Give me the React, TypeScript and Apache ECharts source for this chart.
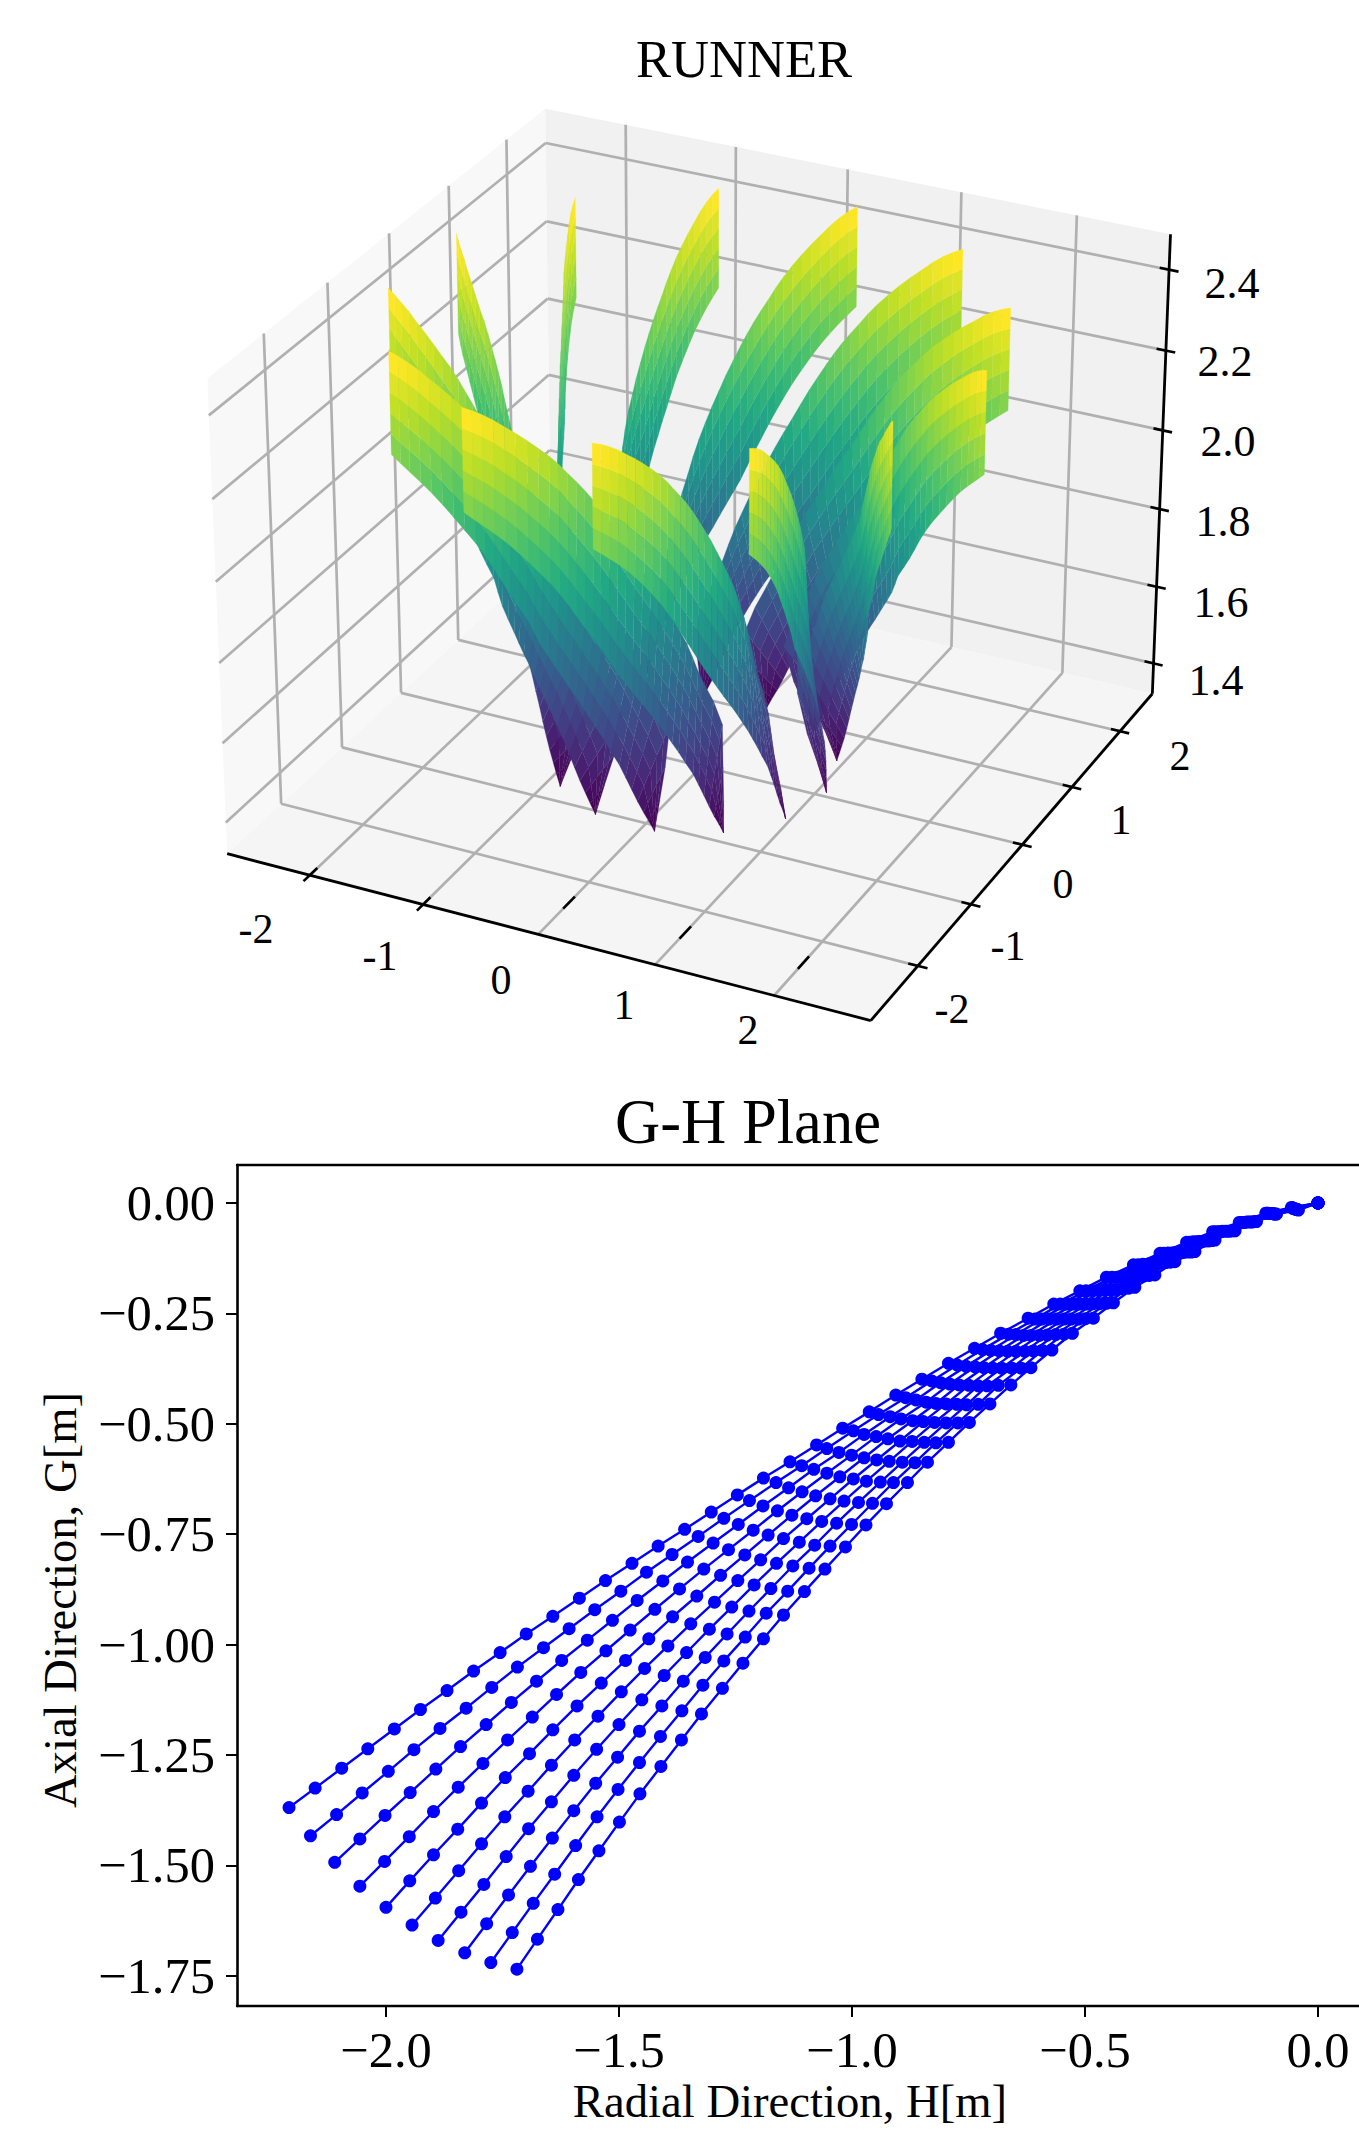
import React, { useEffect, useRef } from "react";
import * as echarts from "echarts";

// ---------- G-H plane: ten streamlines, outer end first, hub end last ----------
const H1 = [-2.208,-2.152,-2.095,-2.039,-1.982,-1.926,-1.869,-1.812,-1.755,-1.699,-1.642,-1.585,-1.529,-1.472,-1.416,-1.359,-1.302,-1.246,-1.190,-1.133,-1.076,-1.020,-0.963,-0.906,-0.850,-0.793,-0.737,-0.681,-0.622,-0.567,-0.511,-0.454,-0.396,-0.339,-0.282,-0.226,-0.169,-0.112,-0.057,0];
const G1 = [-1.369,-1.325,-1.280,-1.236,-1.191,-1.147,-1.104,-1.060,-1.018,-0.976,-0.936,-0.895,-0.855,-0.816,-0.777,-0.739,-0.700,-0.661,-0.623,-0.586,-0.548,-0.510,-0.473,-0.435,-0.399,-0.363,-0.329,-0.295,-0.261,-0.229,-0.199,-0.168,-0.140,-0.114,-0.089,-0.065,-0.044,-0.023,-0.010,0];
const H2 = [-2.162,-2.106,-2.051,-1.995,-1.940,-1.884,-1.828,-1.773,-1.718,-1.662,-1.607,-1.552,-1.496,-1.441,-1.386,-1.330,-1.275,-1.220,-1.163,-1.108,-1.054,-0.997,-0.943,-0.885,-0.829,-0.774,-0.720,-0.664,-0.607,-0.553,-0.498,-0.442,-0.386,-0.331,-0.275,-0.221,-0.165,-0.109,-0.055,0];
const G2 = [-1.433,-1.385,-1.336,-1.287,-1.238,-1.190,-1.144,-1.097,-1.051,-1.007,-0.964,-0.921,-0.879,-0.836,-0.796,-0.755,-0.714,-0.674,-0.633,-0.595,-0.556,-0.516,-0.479,-0.441,-0.403,-0.367,-0.332,-0.297,-0.263,-0.229,-0.199,-0.168,-0.140,-0.114,-0.089,-0.065,-0.044,-0.023,-0.011,0];
const H3 = [-2.110,-2.056,-2.002,-1.948,-1.893,-1.840,-1.785,-1.731,-1.677,-1.623,-1.568,-1.514,-1.461,-1.406,-1.353,-1.298,-1.244,-1.191,-1.136,-1.082,-1.028,-0.974,-0.918,-0.863,-0.810,-0.755,-0.702,-0.648,-0.593,-0.539,-0.485,-0.431,-0.376,-0.322,-0.268,-0.215,-0.161,-0.107,-0.054,0];
const G3 = [-1.493,-1.440,-1.387,-1.335,-1.282,-1.231,-1.181,-1.131,-1.083,-1.036,-0.990,-0.945,-0.900,-0.856,-0.813,-0.770,-0.728,-0.686,-0.645,-0.603,-0.565,-0.524,-0.484,-0.446,-0.407,-0.370,-0.334,-0.298,-0.263,-0.229,-0.198,-0.168,-0.139,-0.113,-0.088,-0.065,-0.044,-0.023,-0.012,0];
const H4 = [-2.056,-2.003,-1.950,-1.898,-1.845,-1.792,-1.739,-1.686,-1.634,-1.582,-1.528,-1.476,-1.423,-1.370,-1.318,-1.265,-1.212,-1.160,-1.107,-1.054,-1.001,-0.948,-0.895,-0.841,-0.790,-0.736,-0.684,-0.632,-0.577,-0.524,-0.472,-0.419,-0.366,-0.314,-0.261,-0.210,-0.157,-0.104,-0.052,0];
const G4 = [-1.547,-1.491,-1.435,-1.378,-1.323,-1.269,-1.216,-1.164,-1.113,-1.063,-1.014,-0.967,-0.920,-0.874,-0.829,-0.785,-0.741,-0.697,-0.654,-0.612,-0.571,-0.529,-0.489,-0.451,-0.410,-0.371,-0.335,-0.300,-0.263,-0.229,-0.198,-0.167,-0.139,-0.113,-0.088,-0.065,-0.044,-0.024,-0.012,0];
const H5 = [-2.000,-1.949,-1.898,-1.846,-1.795,-1.744,-1.692,-1.642,-1.590,-1.538,-1.486,-1.436,-1.385,-1.333,-1.282,-1.230,-1.180,-1.129,-1.078,-1.026,-0.974,-0.923,-0.870,-0.820,-0.770,-0.717,-0.666,-0.616,-0.561,-0.510,-0.459,-0.408,-0.356,-0.306,-0.255,-0.205,-0.153,-0.102,-0.050,0];
const G5 = [-1.595,-1.535,-1.476,-1.418,-1.359,-1.301,-1.247,-1.193,-1.139,-1.087,-1.036,-0.987,-0.937,-0.890,-0.843,-0.797,-0.752,-0.707,-0.663,-0.620,-0.577,-0.534,-0.493,-0.454,-0.412,-0.373,-0.336,-0.300,-0.263,-0.229,-0.197,-0.167,-0.138,-0.112,-0.087,-0.064,-0.043,-0.024,-0.013,0];
const H6 = [-1.944,-1.894,-1.844,-1.795,-1.745,-1.695,-1.645,-1.595,-1.545,-1.495,-1.445,-1.395,-1.346,-1.295,-1.245,-1.196,-1.147,-1.097,-1.047,-0.997,-0.947,-0.897,-0.847,-0.798,-0.749,-0.698,-0.648,-0.598,-0.545,-0.496,-0.445,-0.396,-0.346,-0.297,-0.248,-0.199,-0.148,-0.099,-0.049,0];
const G6 = [-1.635,-1.574,-1.512,-1.451,-1.390,-1.332,-1.273,-1.216,-1.162,-1.107,-1.054,-1.003,-0.953,-0.904,-0.855,-0.808,-0.760,-0.715,-0.670,-0.625,-0.582,-0.539,-0.495,-0.455,-0.413,-0.374,-0.336,-0.300,-0.263,-0.229,-0.197,-0.166,-0.137,-0.112,-0.087,-0.064,-0.043,-0.024,-0.014,0];
const H7 = [-1.888,-1.839,-1.790,-1.742,-1.694,-1.645,-1.597,-1.548,-1.500,-1.451,-1.403,-1.355,-1.306,-1.258,-1.210,-1.162,-1.113,-1.065,-1.017,-0.969,-0.920,-0.871,-0.823,-0.775,-0.729,-0.679,-0.629,-0.581,-0.530,-0.482,-0.432,-0.385,-0.337,-0.289,-0.241,-0.194,-0.144,-0.097,-0.047,0];
const G7 = [-1.670,-1.606,-1.543,-1.480,-1.417,-1.356,-1.296,-1.237,-1.181,-1.125,-1.070,-1.018,-0.965,-0.915,-0.865,-0.816,-0.768,-0.721,-0.675,-0.630,-0.585,-0.540,-0.497,-0.456,-0.414,-0.374,-0.336,-0.299,-0.263,-0.228,-0.196,-0.166,-0.136,-0.112,-0.086,-0.064,-0.043,-0.024,-0.014,0];
const H8 = [-1.831,-1.784,-1.737,-1.690,-1.643,-1.597,-1.550,-1.503,-1.456,-1.408,-1.362,-1.315,-1.268,-1.221,-1.174,-1.127,-1.080,-1.033,-0.986,-0.939,-0.892,-0.845,-0.798,-0.754,-0.710,-0.657,-0.611,-0.563,-0.514,-0.468,-0.419,-0.373,-0.327,-0.281,-0.234,-0.189,-0.140,-0.094,-0.045,0];
const G8 = [-1.698,-1.632,-1.567,-1.502,-1.438,-1.376,-1.314,-1.255,-1.196,-1.139,-1.083,-1.029,-0.976,-0.924,-0.873,-0.822,-0.775,-0.725,-0.678,-0.632,-0.587,-0.542,-0.498,-0.457,-0.414,-0.374,-0.335,-0.298,-0.263,-0.228,-0.194,-0.165,-0.135,-0.111,-0.086,-0.064,-0.043,-0.025,-0.015,0];
const H9 = [-1.775,-1.729,-1.684,-1.638,-1.593,-1.547,-1.502,-1.456,-1.411,-1.365,-1.320,-1.275,-1.229,-1.184,-1.138,-1.092,-1.047,-1.001,-0.956,-0.911,-0.865,-0.820,-0.773,-0.729,-0.686,-0.637,-0.592,-0.545,-0.499,-0.453,-0.406,-0.362,-0.317,-0.272,-0.228,-0.183,-0.136,-0.092,-0.044,0];
const G9 = [-1.720,-1.652,-1.586,-1.520,-1.455,-1.390,-1.328,-1.267,-1.208,-1.150,-1.092,-1.037,-0.983,-0.929,-0.879,-0.827,-0.777,-0.728,-0.680,-0.633,-0.588,-0.543,-0.498,-0.456,-0.413,-0.374,-0.334,-0.297,-0.262,-0.227,-0.193,-0.164,-0.134,-0.111,-0.085,-0.063,-0.042,-0.025,-0.015,0];
const H10 = [-1.719,-1.675,-1.631,-1.587,-1.543,-1.499,-1.455,-1.410,-1.366,-1.323,-1.278,-1.234,-1.190,-1.147,-1.102,-1.058,-1.014,-0.970,-0.926,-0.881,-0.838,-0.793,-0.748,-0.704,-0.659,-0.616,-0.571,-0.527,-0.482,-0.439,-0.393,-0.350,-0.307,-0.264,-0.221,-0.178,-0.132,-0.089,-0.042,0];
const G10 = [-1.735,-1.667,-1.600,-1.532,-1.467,-1.402,-1.338,-1.276,-1.216,-1.157,-1.099,-1.042,-0.987,-0.933,-0.880,-0.829,-0.779,-0.729,-0.681,-0.633,-0.587,-0.542,-0.497,-0.455,-0.412,-0.373,-0.333,-0.295,-0.261,-0.226,-0.191,-0.163,-0.133,-0.110,-0.084,-0.063,-0.042,-0.025,-0.016,0];
const radial = [H1, H2, H3, H4, H5, H6, H7, H8, H9, H10];
const axial = [G1, G2, G3, G4, G5, G6, G7, G8, G9, G10];
const gTicks = [0, -0.25, -0.5, -0.75, -1, -1.25, -1.5, -1.75];
const hTicks = [-2, -1.5, -1, -0.5, 0];

// ---------- RUNNER: the two edges of one blade, read from outer edge to tip ----------
const bladeAngles = [-82.3, -54.6, -26.9, 0.8, 28.5, 56.2, 83.9, 111.6, 139.3, 167, 194.7, 222.4, 250.1];
const topWrap = [0,1.1,2.2,3.4,4.7,6,7.4,8.9,10.3,11.7,13.1,14.5,16,17.5,19,20.9,22.8,24.7,26.7,28.8,30.9,33,35,37.5,40,42,44.5,47,49.5,55,60,59,58,57];
const topRadius = [2.44,2.38,2.32,2.25,2.18,2.11,2.04,1.97,1.90,1.84,1.785,1.735,1.685,1.64,1.60,1.55,1.505,1.46,1.42,1.365,1.31,1.255,1.2,1.14,1.085,1.04,1.00,0.965,0.93,0.89,0.86,0.95,1.05,1.137];
const zTop = [2.454,2.445,2.434,2.419,2.40,2.382,2.362,2.34,2.318,2.295,2.27,2.248,2.224,2.199,2.173,2.14,2.108,2.074,2.04,2.005,1.97,1.934,1.898,1.86,1.82,1.79,1.75,1.71,1.677,1.62,1.556,1.46,1.39,1.322];
const bottomWrap = [0,1.1,2.2,3.4,4.7,6,7.4,8.9,10.3,11.7,13.1,14.5,16,17.5,19,20.9,22.8,24.7,26.7,28.4,30.2,32,34,36,38,40,42.3,45,47,49,51,53,55,57];
const bottomRadius = [2.44,2.38,2.32,2.25,2.18,2.11,2.04,1.97,1.90,1.84,1.79,1.745,1.70,1.65,1.60,1.575,1.55,1.515,1.48,1.455,1.43,1.40,1.375,1.35,1.325,1.30,1.275,1.25,1.23,1.21,1.19,1.17,1.155,1.137];
const zBottom = [2.204,2.186,2.168,2.147,2.124,2.098,2.07,2.04,2.01,1.98,1.951,1.921,1.891,1.861,1.832,1.803,1.775,1.748,1.721,1.70,1.678,1.655,1.63,1.606,1.58,1.555,1.525,1.493,1.462,1.431,1.40,1.372,1.348,1.322];
const xyTicks = [-2, -1, 0, 1, 2];
const zTicks = [1.4, 1.6, 1.8, 2.0, 2.2, 2.4];
const viridis = ["#440154","#482475","#414487","#355f8d","#2a788e","#21918c","#22a884","#44bf70","#7ad151","#bddf26","#fde725"];

// ---------- layout of the 3D view ----------
const XLIM = [-2.74, 2.80], YLIM = [-2.86, 2.69], ZLIM = [1.32, 2.487];
const RING_CENTER = [-0.042, -0.021];
const PLAN_FLATTEN = 0.95;
const ELEV = (28 * Math.PI) / 180, AZIM = (-64 * Math.PI) / 180;
const OX = 700.3, OY = 543, K = 6172;
const BX = 1.143, BZ = 0.857, DIST = 10;
const n = [Math.cos(ELEV) * Math.cos(AZIM), Math.cos(ELEV) * Math.sin(AZIM), Math.sin(ELEV)];
const u = [-Math.sin(AZIM), Math.cos(AZIM), 0];
const v = [n[1] * u[2] - n[2] * u[1], n[2] * u[0] - n[0] * u[2], n[0] * u[1] - n[1] * u[0]];
const far = [-Math.cos(AZIM), -Math.sin(AZIM)];
const dot = (a: number[], b: number[]) => a[0] * b[0] + a[1] * b[1] + a[2] * b[2];
function box(x: number, y: number, z: number) {
  return [
    ((x - XLIM[0]) / (XLIM[1] - XLIM[0]) - 0.5) * BX,
    ((y - YLIM[0]) / (YLIM[1] - YLIM[0]) - 0.5) * BX,
    ((z - ZLIM[0]) / (ZLIM[1] - ZLIM[0]) - 0.5) * BZ,
  ];
}
function depth(x: number, y: number, z: number) {
  return DIST - dot(n, box(x, y, z));
}
function proj(x: number, y: number, z: number): number[] {
  const p = box(x, y, z);
  const d = DIST - dot(n, p);
  return [OX + (K * dot(u, p)) / d, OY - (K * dot(v, p)) / d];
}
function cmap(t: number) {
  const c = Math.max(0, Math.min(0.9999, t)) * (viridis.length - 1);
  const i = Math.floor(c), f = c - i;
  const hex = (s: string, o: number) => parseInt(s.substr(o, 2), 16);
  const mix = (o: number) => Math.round(hex(viridis[i], o) * (1 - f) + hex(viridis[i + 1], o) * f);
  return `rgb(${mix(1)},${mix(3)},${mix(5)})`;
}

type Item = { pts: number[][]; fill?: string; stroke?: string; width?: number };
const BANDS = 5;
function buildFaces(): Item[] {
  const out: (Item & { d: number; zAvg: number })[] = [];
  for (const a of bladeAngles) {
    const edge = (wrap: number[], rad: number[], s: number) => {
      const th = ((a + wrap[s]) * Math.PI) / 180;
      let x = rad[s] * Math.cos(th), y = rad[s] * Math.sin(th);
      const along = x * far[0] + y * far[1];
      x -= (1 - PLAN_FLATTEN) * along * far[0];
      y -= (1 - PLAN_FLATTEN) * along * far[1];
      return [x + RING_CENTER[0], y + RING_CENTER[1]];
    };
    const pos = (s: number, b: number) => {
      const f = b / BANDS;
      const t = edge(topWrap, topRadius, s), m = edge(bottomWrap, bottomRadius, s);
      return [m[0] + f * (t[0] - m[0]), m[1] + f * (t[1] - m[1]), zBottom[s] + f * (zTop[s] - zBottom[s])];
    };
    for (let s = 0; s < topWrap.length - 1; s++) {
      for (let b = 0; b < BANDS; b++) {
        const c = [pos(s, b), pos(s + 1, b), pos(s + 1, b + 1), pos(s, b + 1)];
        const zAvg = (c[0][2] + c[1][2] + c[2][2] + c[3][2]) / 4;
        const d = c.reduce((acc, q) => acc + depth(q[0], q[1], q[2]), 0) / 4;
        out.push({ pts: c.map((q) => proj(q[0], q[1], q[2])), d, zAvg });
      }
    }
  }
  const lo = Math.min(...out.map((f) => f.zAvg)), hi = Math.max(...out.map((f) => f.zAvg));
  out.forEach((f) => {
    f.fill = cmap((f.zAvg - lo) / (hi - lo));
    f.stroke = f.fill;
    f.width = 0.25;
  });
  out.sort((p, q) => q.d - p.d);
  return out;
}
function buildFrame(): Item[] {
  const [x0, x1] = XLIM, [y0, y1] = YLIM, [z0, z1] = ZLIM;
  const items: Item[] = [
    { pts: [proj(x0, y0, z0), proj(x0, y1, z0), proj(x0, y1, z1), proj(x0, y0, z1)], fill: "#f8f8f8" },
    { pts: [proj(x0, y1, z0), proj(x1, y1, z0), proj(x1, y1, z1), proj(x0, y1, z1)], fill: "#f1f1f1" },
    { pts: [proj(x0, y0, z0), proj(x1, y0, z0), proj(x1, y1, z0), proj(x0, y1, z0)], fill: "#f5f5f5" },
  ];
  const G = "#b0b0b0", W = 2.7;
  const line = (a: number[], b: number[], stroke = G, width = W) => items.push({ pts: [a, b], stroke, width });
  for (const t of xyTicks) {
    line(proj(t, y0, z0), proj(t, y1, z0));
    line(proj(t, y1, z0), proj(t, y1, z1));
    line(proj(x0, t, z0), proj(x1, t, z0));
    line(proj(x0, t, z0), proj(x0, t, z1));
  }
  for (const t of zTicks) {
    line(proj(x0, y0, t), proj(x0, y1, t));
    line(proj(x0, y1, t), proj(x1, y1, t));
  }
  const B = "#000000";
  line(proj(x0, y0, z0), proj(x1, y0, z0), B, 2.8);
  line(proj(x1, y0, z0), proj(x1, y1, z0), B, 2.8);
  line(proj(x1, y1, z0), proj(x1, y1, z1), B, 2.8);
  for (const t of xyTicks) {
    if (t < 0) line(proj(t, y0 - 0.1, z0), proj(t, y0 + 0.12, z0), B, 2.6);
    else line(proj(t, y0 + 0.42, z0), proj(t, y0 + 0.62, z0), B, 2.6);
    line(proj(x1 - 0.08, t, z0), proj(x1 + 0.08, t, z0), B, 2.6);
  }
  for (const t of zTicks) line(proj(x1 - 0.08, y1, t), proj(x1 + 0.08, y1, t), B, 2.6);
  return items;
}
const faces = buildFaces();
const frame = buildFrame();

const SERIF = '"Liberation Serif", serif';
const xTickPos = [[256, 929], [380, 956], [501, 980], [624, 1005], [748, 1030]];
const yTickPos = [[952, 1009], [1008, 946], [1063, 884], [1121, 820], [1180, 756]];
const zTickPos = [[1216, 680], [1221, 602], [1223, 521], [1228, 441], [1225, 361], [1232, 283]];

function label(text: string, x: number, y: number, size: number, rotation = 0) {
  return {
    type: "text", x, y, rotation, silent: true,
    style: { text, fill: "#000", font: `${size}px ${SERIF}`, textAlign: "center", textVerticalAlign: "middle" },
  };
}
function customFrom(items: Item[], z: number) {
  return {
    type: "custom", coordinateSystem: "cartesian2d", xAxisIndex: 0, yAxisIndex: 0, silent: true, clip: false, z,
    data: items.map(() => [0, 0]),
    renderItem: (params: any, api: any) => {
      const it = items[params.dataIndex];
      const pts = it.pts.map((p) => api.coord(p));
      if (!it.fill) {
        return { type: "line", shape: { x1: pts[0][0], y1: pts[0][1], x2: pts[1][0], y2: pts[1][1] }, style: { stroke: it.stroke, lineWidth: it.width } };
      }
      return { type: "polygon", shape: { points: pts }, style: { fill: it.fill, stroke: it.stroke || "none", lineWidth: it.width || 0 } };
    },
  };
}

export default function App() {
  const ref = useRef<HTMLDivElement>(null);
  useEffect(() => {
    const chart = echarts.init(ref.current!, undefined, { renderer: "svg" });
    const hidden = { show: false, type: "value" as const, axisLine: { show: false }, splitLine: { show: false } };
    chart.setOption({
      animation: false,
      backgroundColor: "#ffffff",
      grid: [
        { left: 0, top: 0, width: 1359, height: 2134, show: false },
        { left: 237, top: 1165, width: 1122, height: 841, show: false },
      ],
      xAxis: [
        { ...hidden, gridIndex: 0, min: 0, max: 1359 },
        {
          type: "value", gridIndex: 1, min: -2.3197, max: 0.0880, splitLine: { show: false },
          axisLine: { show: true, onZero: false, lineStyle: { color: "#000", width: 2.4 } },
          axisTick: { show: true, length: 11, customValues: hTicks, lineStyle: { color: "#000", width: 2 } },
          axisLabel: { show: true, customValues: hTicks, margin: 18, fontFamily: SERIF, fontSize: 50.5, color: "#000",
            formatter: (val: number) => val.toFixed(1).replace("-", "\u2212") },
        },
        {
          type: "value", gridIndex: 1, position: "top", min: -2.3197, max: 0.0880, splitLine: { show: false },
          axisLine: { show: true, onZero: false, lineStyle: { color: "#000", width: 2.4 } },
          axisTick: { show: false }, axisLabel: { show: false },
        },
      ],
      yAxis: [
        { ...hidden, gridIndex: 0, min: 0, max: 2134, inverse: true },
        {
          type: "value", gridIndex: 1, min: -1.8184, max: 0.086, splitLine: { show: false },
          axisLine: { show: true, onZero: false, lineStyle: { color: "#000", width: 2.6 } },
          axisTick: { show: true, length: 11, customValues: gTicks, lineStyle: { color: "#000", width: 2 } },
          axisLabel: { show: true, customValues: gTicks, margin: 22, fontFamily: SERIF, fontSize: 50.5, color: "#000",
            formatter: (val: number) => val.toFixed(2).replace("-", "\u2212") },
        },
      ],
      graphic: { elements: [
        label("RUNNER", 744, 59, 52.6),
        label("G-H Plane", 748, 1122, 62.6),
        label("Radial Direction, H[m]", 790, 2101, 46.7),
        label("Axial Direction, G[m]", 60, 1600, 46.7, Math.PI / 2),
        ...xyTicks.map((t, i) => label(String(t), xTickPos[i][0], xTickPos[i][1], 42)),
        ...xyTicks.map((t, i) => label(String(t), yTickPos[i][0], yTickPos[i][1], 42)),
        ...zTicks.map((t, i) => label(t.toFixed(1), zTickPos[i][0], zTickPos[i][1], 44)),
      ] },
      series: [
        customFrom(frame, 1),
        customFrom(faces, 2),
        ...radial.map((hs, i) => ({
          type: "line", xAxisIndex: 1, yAxisIndex: 1, z: 3, silent: true,
          data: hs.map((h, j) => [h, axial[i][j]]),
          symbol: "circle", symbolSize: 13, showSymbol: true, showAllSymbol: true,
          lineStyle: { color: "#0000ff", width: 2.4 }, itemStyle: { color: "#0000ff" },
        })),
      ],
    });
    return () => chart.dispose();
  }, []);
  return <div ref={ref} style={{ position: "absolute", left: 0, top: 0, width: 1359, height: 2134 }} />;
}
